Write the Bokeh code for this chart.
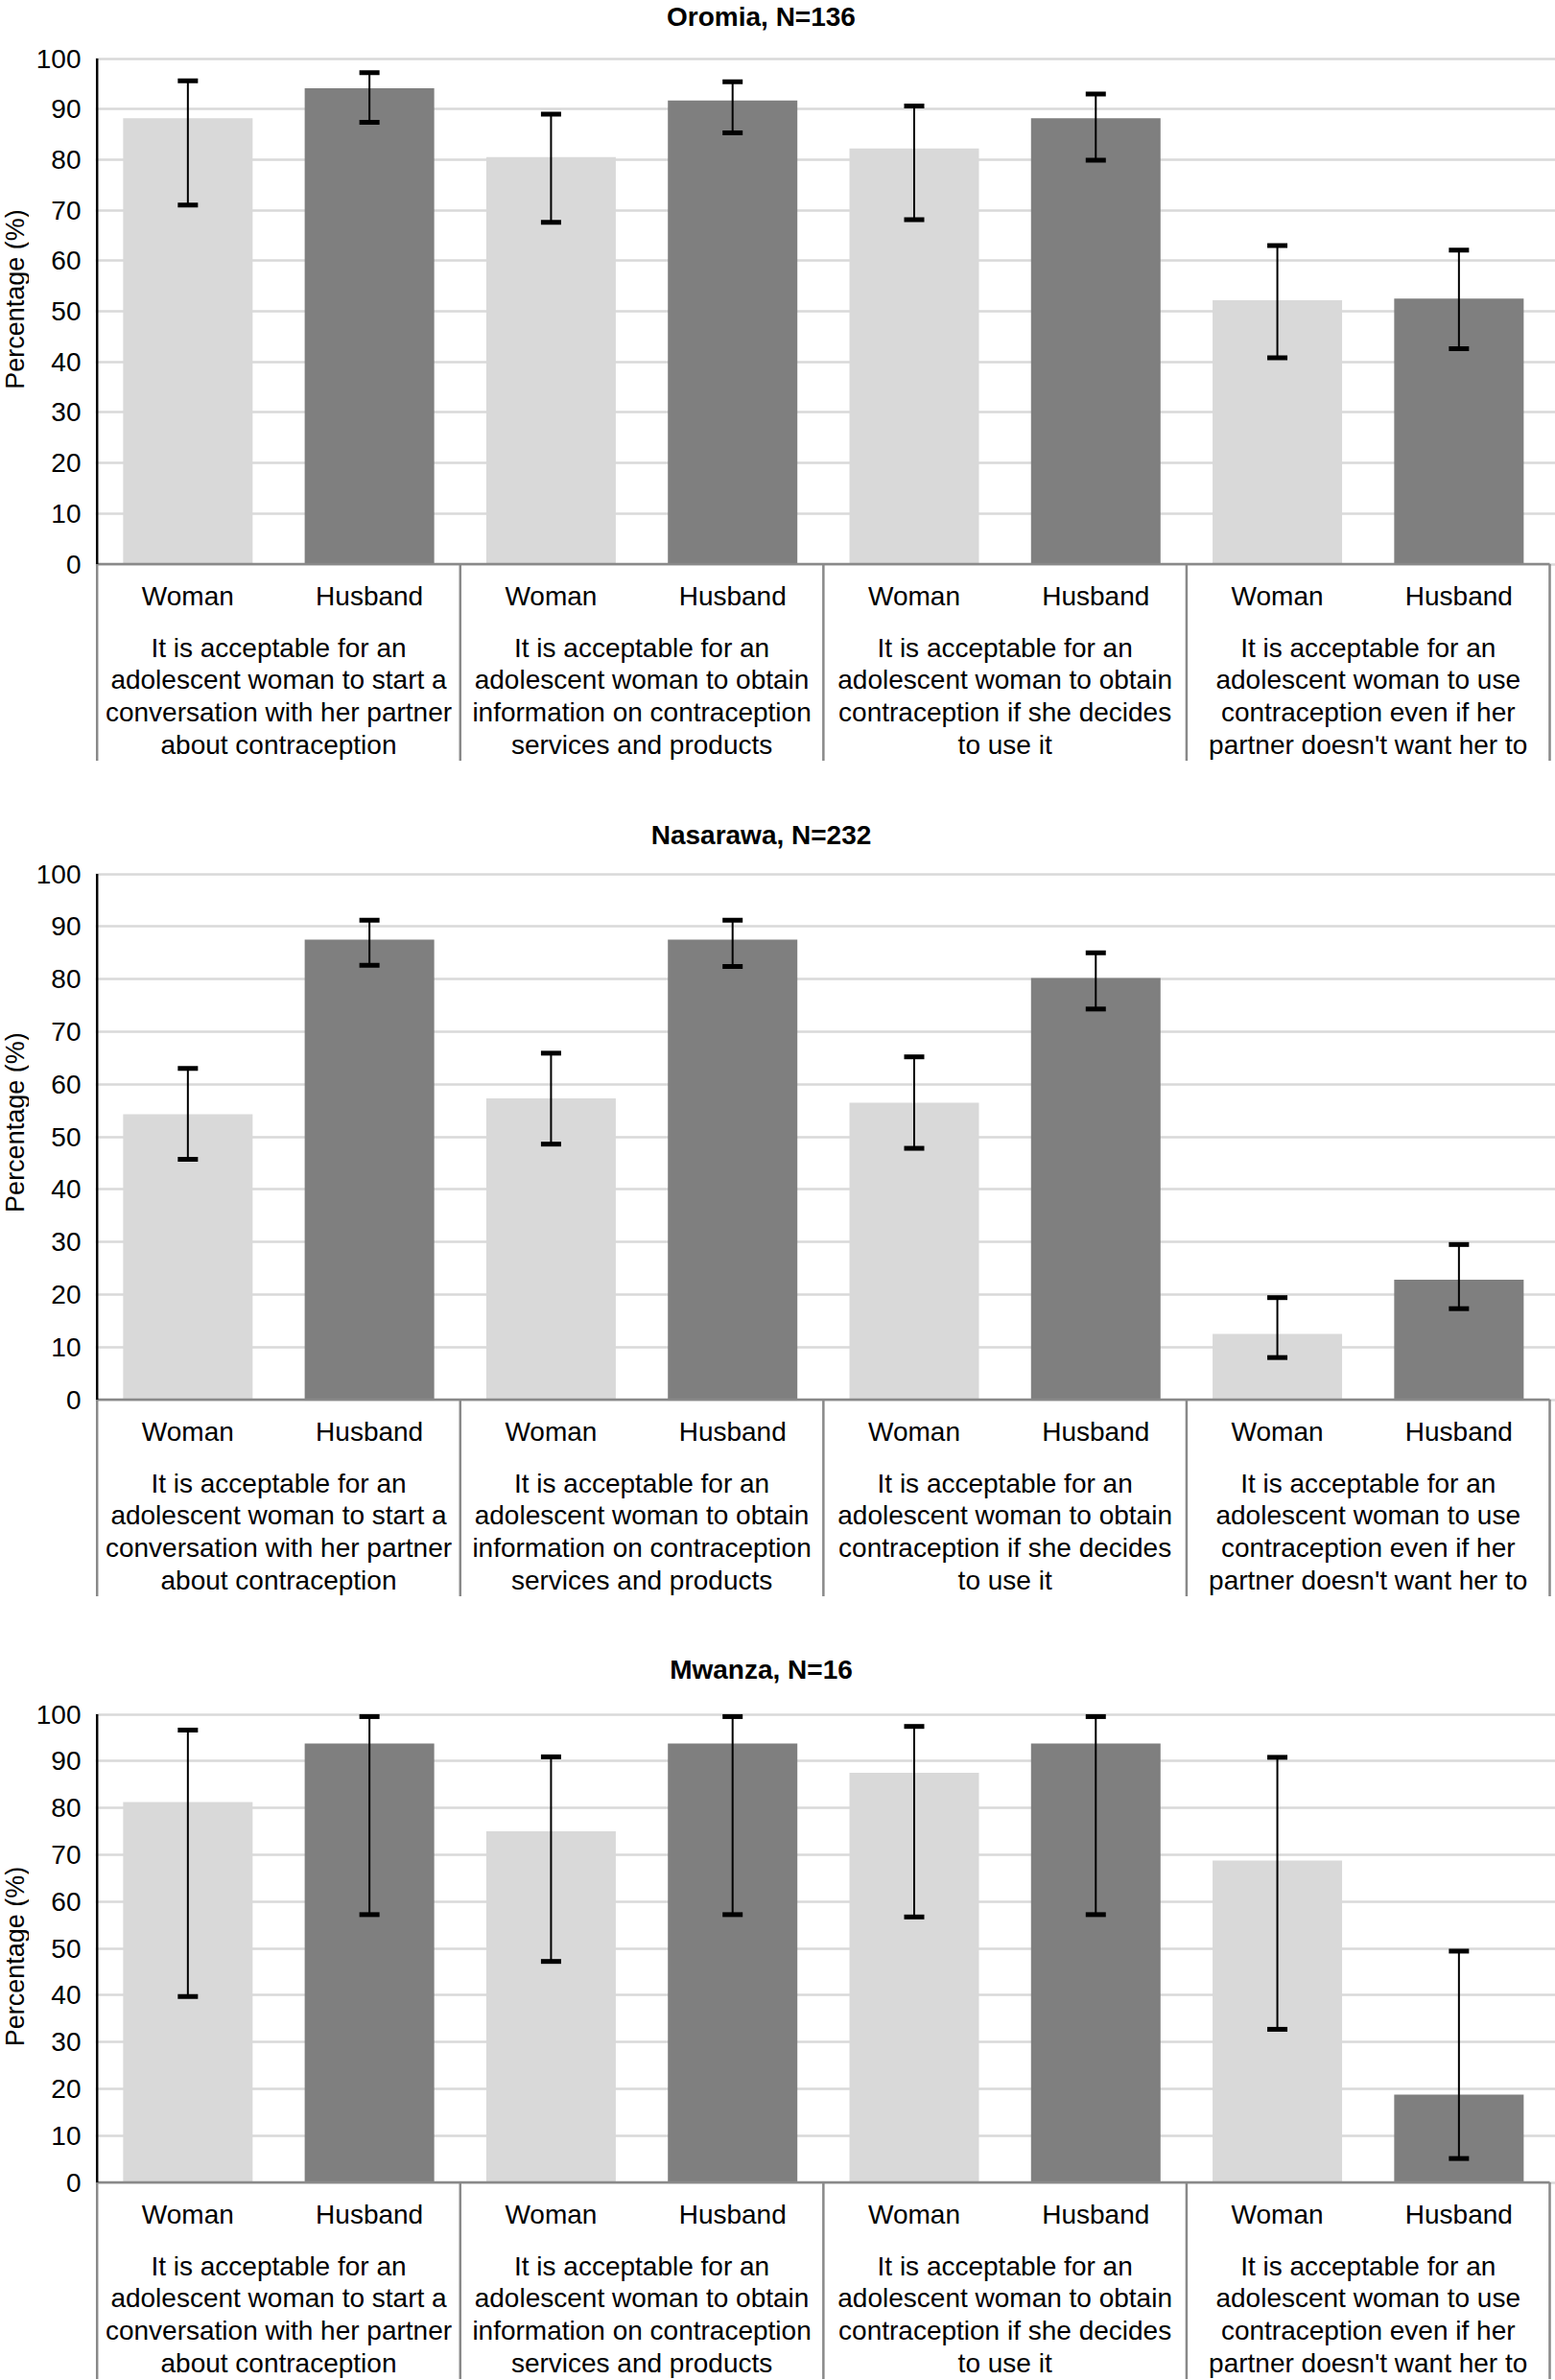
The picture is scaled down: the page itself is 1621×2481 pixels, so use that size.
import math
from bokeh.plotting import figure
from bokeh.models import ColumnDataSource, Range1d, FixedTicker, Whisker, TeeHead
from bokeh.layouts import column, row
from bokeh.embed import file_html
from bokeh.resources import INLINE
from bokeh.core.properties import value

# ---------------- data ----------------
regions = ["Oromia, N=136", "Nasarawa, N=232", "Mwanza, N=16"]
respondents = ["Woman", "Husband"]
statements = [
    "It is acceptable for an\nadolescent woman to start a\nconversation with her partner\nabout contraception",
    "It is acceptable for an\nadolescent woman to obtain\ninformation on contraception\nservices and products",
    "It is acceptable for an\nadolescent woman to obtain\ncontraception if she decides\nto use it",
    "It is acceptable for an\nadolescent woman to use\ncontraception even if her\npartner doesn't want her to",
]
y_ticks = [0, 10, 20, 30, 40, 50, 60, 70, 80, 90, 100]
y_title = "Percentage (%)"

oromia_woman = [88.2, 80.5, 82.2, 52.2]
oromia_woman_low = [71.0, 67.6, 68.1, 40.8]
oromia_woman_high = [95.6, 89.0, 90.6, 63.0]
oromia_husband = [94.1, 91.7, 88.2, 52.5]
oromia_husband_low = [87.4, 85.3, 79.9, 42.6]
oromia_husband_high = [97.2, 95.4, 93.0, 62.1]

nasarawa_woman = [54.3, 57.3, 56.5, 12.5]
nasarawa_woman_low = [45.7, 48.6, 47.8, 8.0]
nasarawa_woman_high = [63.0, 65.9, 65.2, 19.4]
nasarawa_husband = [87.5, 87.5, 80.2, 22.8]
nasarawa_husband_low = [82.6, 82.4, 74.3, 17.3]
nasarawa_husband_high = [91.2, 91.2, 85.0, 29.5]

mwanza_woman = [81.25, 75.0, 87.5, 68.75]
mwanza_woman_low = [39.7, 47.2, 56.7, 32.7]
mwanza_woman_high = [96.6, 90.9, 97.4, 90.8]
mwanza_husband = [93.75, 93.75, 93.75, 18.75]
mwanza_husband_low = [57.2, 57.2, 57.2, 5.1]
mwanza_husband_high = [99.5, 99.5, 99.5, 49.4]

panel_data = [
    (oromia_woman, oromia_woman_low, oromia_woman_high,
     oromia_husband, oromia_husband_low, oromia_husband_high),
    (nasarawa_woman, nasarawa_woman_low, nasarawa_woman_high,
     nasarawa_husband, nasarawa_husband_low, nasarawa_husband_high),
    (mwanza_woman, mwanza_woman_low, mwanza_woman_high,
     mwanza_husband, mwanza_husband_low, mwanza_husband_high),
]

# ---------------- layout (page pixels) ----------------
TOTAL_W = 1621
LABEL_W = 30                                  # strip holding the y-axis title
MAIN_W = TOTAL_W - LABEL_W
X0_PAGE, X8_PAGE = 100.7, 1615.0              # page x of category axis start / end
UNIT = (X8_PAGE - X0_PAGE) / 8.0
FRAME_LEFT_PAGE = 99
FRAME_RIGHT_PAGE = TOTAL_W

# top, bottom, y100, y0, title y, y-title center (page px)
layouts = [
    (0, 840, 60.5, 587.5, 16.5, 311.5),
    (840, 1700, 910.5, 1458.5, 870.0, 1169.6),
    (1700, 2481, 1786.5, 2274.5, 1739.5, 2039.0),
]
TITLE_X_PAGE = 793.0

FONT = value("Liberation Sans")
LIGHT = "#D9D9D9"
DARK = "#7F7F7F"
GRID = "#D9D9D9"
AXIS_GRAY = "#898989"


def xdata(page_x):
    return (page_x - X0_PAGE) / UNIT


x_start = xdata(FRAME_LEFT_PAGE)
x_end = xdata(FRAME_RIGHT_PAGE)

rows = []
for i, (top, bottom, a, b, title_y, ylab_y) in enumerate(layouts):
    k = (b - a) / 100.0
    H = bottom - top

    def ydata(page_y, a=a, k=k):
        return 100.0 - (page_y - a) / k

    yr_start, yr_end = ydata(bottom), ydata(top)

    # narrow strip with the y-axis title
    lf = figure(width=LABEL_W, height=H, output_backend="svg", toolbar_location=None,
                x_range=Range1d(0, LABEL_W), y_range=Range1d(yr_start, yr_end),
                x_axis_location=None, y_axis_location=None,
                min_border_left=0, min_border_right=0, min_border_top=0, min_border_bottom=0)
    lf.outline_line_color = None
    lf.grid.grid_line_color = None
    lf.text(x=[LABEL_W / 2.0], y=[ydata(ylab_y)], text=[y_title], angle=math.pi / 2,
            text_font=FONT, text_font_size="27px", text_color="black",
            text_align="center", text_baseline="middle")

    p = figure(width=MAIN_W, height=H, output_backend="svg", toolbar_location=None,
               x_range=Range1d(x_start, x_end),
               y_range=Range1d(yr_start, yr_end),
               x_axis_location=None, y_axis_location="left",
               min_border_left=FRAME_LEFT_PAGE - LABEL_W, min_border_right=0,
               min_border_top=0, min_border_bottom=0)
    p.outline_line_color = None
    p.background_fill_color = "white"
    p.border_fill_color = "white"
    p.xgrid.grid_line_color = None

    ticker = FixedTicker(ticks=y_ticks)
    p.yaxis.ticker = ticker
    p.ygrid.ticker = ticker
    p.ygrid.grid_line_color = GRID
    p.ygrid.grid_line_width = 2.5
    p.yaxis.axis_line_color = None
    p.yaxis.major_tick_line_color = None
    p.yaxis.minor_tick_line_color = None
    p.yaxis.major_tick_out = 0
    p.yaxis.major_tick_in = 0
    p.yaxis.major_label_standoff = 15
    p.yaxis.major_label_text_font = "Liberation Sans"
    p.yaxis.major_label_text_font_size = "28px"
    p.yaxis.major_label_text_color = "black"

    w, wl, wh, h, hl, hh = panel_data[i]
    xw = [2 * g + 0.5 for g in range(4)]
    xh = [2 * g + 1.5 for g in range(4)]
    bar_w = 135.0 / UNIT

    p.vbar(x=xw, top=w, bottom=0, width=bar_w, fill_color=LIGHT, line_color=None)
    p.vbar(x=xh, top=h, bottom=0, width=bar_w, fill_color=DARK, line_color=None)

    for xs, lo, hi in ((xw, wl, wh), (xh, hl, hh)):
        src = ColumnDataSource(dict(x=xs, lo=lo, hi=hi))
        wk = Whisker(source=src, base="x", lower="lo", upper="hi",
                     line_color="black", line_width=2,
                     upper_head=TeeHead(size=21, line_width=5, line_color="black"),
                     lower_head=TeeHead(size=21, line_width=5, line_color="black"),
                     level="annotation")
        p.add_layout(wk)

    # axis lines
    y_sep_bottom = -205.0 / k
    p.segment(x0=[0], y0=[0], x1=[8], y1=[0], line_color=AXIS_GRAY, line_width=2.5)
    p.segment(x0=[0, 2, 4, 6, 8], y0=[0] * 5, x1=[0, 2, 4, 6, 8], y1=[y_sep_bottom] * 5,
              line_color=AXIS_GRAY, line_width=2.5)
    p.segment(x0=[0], y0=[0], x1=[0], y1=[100], line_color="black", line_width=2.5)

    # respondent labels
    p.text(x=xw + xh, y=[-33.5 / k] * 8,
           text=[respondents[0]] * 4 + [respondents[1]] * 4,
           text_font=FONT, text_font_size="28px", text_color="black",
           text_align="center", text_baseline="middle")

    # statement labels
    sx, sy, st = [], [], []
    for g, s in enumerate(statements):
        for j, line in enumerate(s.split("\n")):
            sx.append(2 * g + 1)
            sy.append(-(87.0 + 33.7 * j) / k)
            st.append(line)
    p.text(x=sx, y=sy, text=st, text_font=FONT, text_font_size="28px",
           text_color="black", text_align="center", text_baseline="middle")

    # panel title
    p.text(x=[xdata(TITLE_X_PAGE)], y=[ydata(title_y)], text=[regions[i]],
           text_font=FONT, text_font_size="28px", text_font_style="bold",
           text_color="black", text_align="center", text_baseline="middle")

    rows.append(row(lf, p, spacing=0))

layout = column(*rows, spacing=0)
open("out.html", "w").write(file_html(layout, INLINE))
